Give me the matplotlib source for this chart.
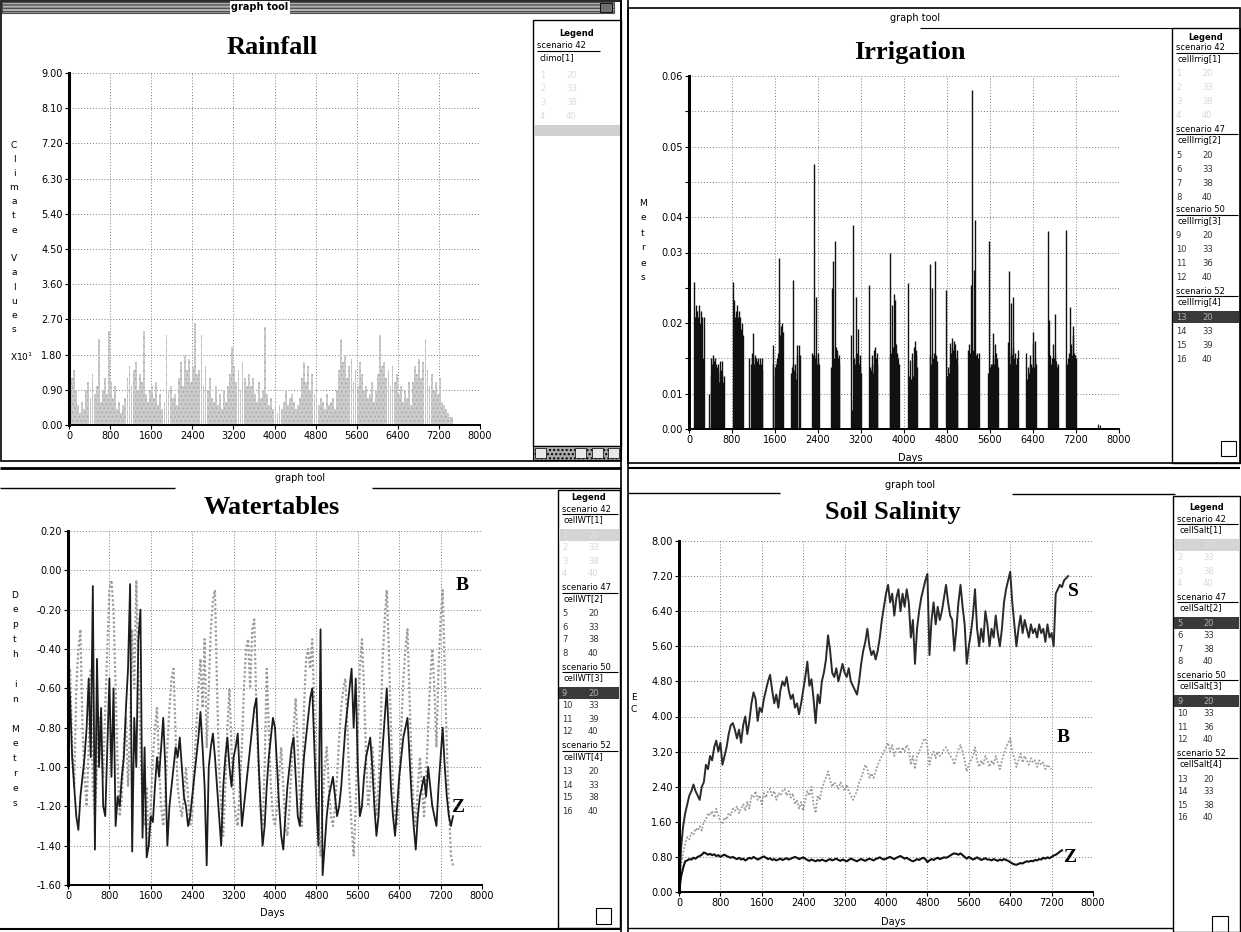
import matplotlib
matplotlib.use('Agg')
import matplotlib.pyplot as plt
from matplotlib.patches import Rectangle
import numpy as np

W, H = 1241, 932

# ---- data ----
rain_step = 40  # days between rainfall bars
rain_vals = [1.6, 1.2, 1.4, 0.9, 0.5, 0.3, 0.6, 0.4,
             0.9, 1.1, 0.7, 1.3, 0.8, 1.0, 2.2, 0.6,
             0.9, 1.2, 0.8, 2.4, 1.1, 0.7, 1.0,
             0.4, 0.6, 0.3, 0.5, 0.7,
             1.2, 1.5, 1.0, 1.4, 1.6, 0.9, 1.3, 1.1, 2.4, 0.8,
             0.6, 0.9, 1.0, 0.7, 1.1, 0.5, 0.8, 0.4,
             0.6, 2.3, 0.9, 1.0, 0.7, 0.8, 0.5,
             1.2, 1.6, 1.0, 1.8, 1.4, 1.7, 1.1, 1.5, 2.6, 1.3,
             1.4, 2.3, 1.0, 1.5, 0.9, 1.2, 0.7,
             0.6, 1.0, 0.5, 0.8, 0.4, 0.9, 0.6, 1.0,
             1.3, 2.0, 1.5, 1.1, 1.4, 0.9, 1.6, 1.2, 1.0, 1.3,
             1.0, 1.2, 0.8, 0.6, 1.1, 0.7, 0.9, 2.5,
             0.8, 0.5, 0.7, 0.4, 0.6, 0.3, 0.5,
             0.4, 0.6, 0.9, 0.5, 0.7, 0.8, 0.6, 0.4, 0.5, 0.7,
             1.2, 1.6, 1.1, 1.5, 0.9, 1.3, 0.8, 1.0,
             0.5, 0.7, 0.6, 0.4, 0.8, 0.5, 0.6, 0.7, 0.4, 0.9,
             1.4, 2.2, 1.6, 1.8, 1.2, 1.5, 1.7, 1.1, 1.4, 1.0, 1.6, 1.3,
             0.9, 1.0, 0.7, 0.8, 1.1, 0.6, 0.9,
             1.3, 2.3, 1.5, 1.6, 1.2, 1.4, 1.0, 1.5, 1.1, 1.3,
             0.8, 1.0, 0.6, 0.9, 0.7, 1.1, 0.5,
             1.1, 1.5, 1.3, 1.7, 1.2, 1.6, 2.2, 1.4, 1.0, 1.3, 0.9, 1.1,
             0.8, 1.2, 0.6, 0.5, 0.4, 0.3, 0.2, 0.2]

irr_step = 12  # days between irrigation events inside a season
irr_starts = [100, 380, 820, 1115, 1560, 1905, 2295, 2650, 3020, 3350,
              3735, 4075, 4480, 4790, 5190, 5565, 5935, 6275, 6680, 7020]
irr_heights = [
    [0.025, 0.019, 0.021, 0.018, 0.02, 0.017, 0.019, 0.021, 0.016, 0.018, 0.02, 0.015, 0.019, 0.012, 0.0, 0.019],
    [0.006, 0.0, 0.012, 0.009, 0.011, 0.0125, 0.012, 0.0115, 0.01, 0.012, 0.011, 0.0105, 0.009, 0.011,
     0.01, 0.008, 0.0115, 0.0095, 0.01, 0.009, 0.0115, 0.008, 0.009],
    [0.025, 0.018, 0.022, 0.019, 0.02, 0.017, 0.021, 0.019, 0.018, 0.02, 0.016, 0.019, 0.017, 0.015, 0.018, 0.016],
    [0.012, 0.0, 0.0, 0.011, 0.012, 0.013, 0.0163, 0.012, 0.011, 0.0125, 0.01, 0.012, 0.0115, 0.009, 0.012,
     0.011, 0.0105, 0.012, 0.009, 0.011, 0.012, 0.01],
    [0.0143, 0.011, 0.0, 0.009, 0.0106, 0.011, 0.012, 0.0115, 0.013, 0.0186, 0.029, 0.016, 0.0175, 0.015, 0.018, 0.0165],
    [0.0095, 0.0105, 0.011, 0.0254, 0.01, 0.0095, 0.011, 0.0085, 0.0125, 0.0143, 0.0, 0.0, 0.0143, 0.0125],
    [0.013, 0.0125, 0.045, 0.0125, 0.012, 0.0225, 0.0125, 0.011, 0.013, 0.012, 0.011],
    [0.0106, 0.024, 0.0285, 0.011, 0.012, 0.0105, 0.032, 0.014, 0.013, 0.0135, 0.012, 0.0125, 0.011],
    [0.016, 0.0033, 0.0347, 0.005, 0.012, 0.0105, 0.011, 0.0225, 0.0125, 0.013, 0.017, 0.0125, 0.011, 0.0105, 0.0125, 0.0095],
    [0.0245, 0.0095, 0.0105, 0.01, 0.011, 0.0125, 0.0095, 0.011, 0.0135, 0.014, 0.0115, 0.012, 0.013, 0.011],
    [0.0125, 0.03, 0.013, 0.021, 0.0125, 0.014, 0.013, 0.023, 0.022, 0.012, 0.0145, 0.0125, 0.013, 0.012, 0.011],
    [0.0248, 0.0067, 0.009, 0.0118, 0.0075, 0.0085, 0.013, 0.0085, 0.009, 0.0118, 0.014, 0.015, 0.0125, 0.0135, 0.0105],
    [0.028, 0.0125, 0.011, 0.0105, 0.024, 0.012, 0.011, 0.013, 0.0285, 0.011, 0.0125, 0.0115],
    [0.0237, 0.009, 0.0105, 0.008, 0.0095, 0.011, 0.0146, 0.013, 0.0155, 0.014, 0.0135, 0.0125, 0.015, 0.013,
     0.0145, 0.012, 0.0135, 0.011],
    [0.0135, 0.012, 0.0145, 0.013, 0.011, 0.0245, 0.0577, 0.012, 0.0135, 0.011, 0.027, 0.0355, 0.0125, 0.0115,
     0.013, 0.012, 0.011, 0.013],
    [0.0095, 0.0084, 0.032, 0.0105, 0.011, 0.0095, 0.011, 0.0163, 0.0125, 0.011, 0.0145, 0.012, 0.013, 0.012, 0.011, 0.0105],
    [0.0148, 0.0123, 0.0268, 0.011, 0.013, 0.0214, 0.0125, 0.014, 0.0225, 0.012, 0.0115, 0.013, 0.0105, 0.011, 0.012, 0.0135],
    [0.0129, 0.0085, 0.0084, 0.0105, 0.0095, 0.011, 0.0125, 0.0095, 0.011, 0.0105, 0.0145, 0.0165, 0.0105, 0.015, 0.012, 0.011],
    [0.0336, 0.011, 0.0186, 0.0125, 0.0105, 0.011, 0.012, 0.0105, 0.0145, 0.012, 0.0195, 0.0125, 0.011, 0.0115, 0.0105, 0.011],
    [0.0338, 0.011, 0.0105, 0.012, 0.013, 0.011, 0.0208, 0.012, 0.0145, 0.0125, 0.0175, 0.016, 0.013, 0.0115, 0.0125, 0.012],
]

wt_step = 40
# scenario 52 (black, "Z")
wt_z = [-0.45, -0.65, -0.95, -1.10, -1.25, -1.32, -1.15, -1.05, -0.95, -0.80,
        -0.55, -0.95, -0.08, -1.42, -0.45, -1.00, -0.70, -1.20, -1.25,
        -0.90, -0.55, -1.05, -0.60, -1.30, -1.15, -1.20, -1.05, -0.95,
        -0.70, -0.50, -0.07, -1.43, -0.75, -1.00, -0.35, -0.20, -1.36,
        -0.90, -1.46, -1.40, -1.25, -1.28, -1.10, -0.95, -1.05, -0.90,
        -0.75, -1.00, -1.40, -1.20, -1.10, -1.00, -0.90, -0.95, -0.85,
        -1.00, -1.15, -1.20, -1.30, -1.25, -1.15, -1.05, -0.95, -0.85,
        -0.72, -0.90, -1.10, -1.50, -1.00, -0.90, -0.83, -0.95, -1.10,
        -1.25, -1.40, -1.10, -0.95, -0.85, -1.00, -1.10, -0.95, -0.90,
        -0.83, -1.05, -1.30, -1.20, -1.10, -1.00, -0.90, -0.80, -0.70,
        -0.65, -0.95, -1.20, -1.40, -1.30, -1.10, -0.95, -0.85, -0.75,
        -0.80, -1.00, -1.20, -1.35, -1.42, -1.25, -1.10, -1.00, -0.90,
        -0.85, -1.05, -1.25, -1.30, -1.10, -0.95, -0.85, -0.75, -0.65,
        -0.60, -0.90, -1.20, -1.40, -0.30, -1.55, -1.40, -1.25, -1.15,
        -1.10, -1.05, -1.15, -1.25, -1.20, -1.10, -0.95, -0.80, -0.70,
        -0.60, -0.50, -0.80, -0.55, -1.00, -1.25, -1.20, -1.05, -0.95,
        -0.90, -0.85, -1.00, -1.20, -1.35, -1.25, -1.05, -0.90, -0.75,
        -0.60, -0.85, -1.10, -1.25, -1.35, -1.20, -1.05, -0.95, -0.85,
        -0.80, -0.75, -0.95, -1.15, -1.30, -1.42, -1.25, -1.15, -1.10,
        -1.05, -1.15, -1.00, -1.10, -1.20, -1.25, -1.30, -1.10, -0.95,
        -0.80, -1.00, -1.15, -1.25, -1.30, -1.25]
# scenario 42 (grey dotted, "B")
wt_b = [-0.70, -0.50, -0.90, -1.10, -0.60, -0.40, -0.30, -0.80, -1.05, -1.20,
        -0.90, -0.50, -1.10, -1.25, -1.00, -0.75, -0.90, -1.05, -0.70,
        -0.40, -0.10, -0.05, -0.20, -0.60, -1.00, -1.25, -1.15, -0.90,
        -0.75, -1.10, -0.80, -0.30, -0.60, -0.05, -0.50, -0.90, -1.20,
        -1.30, -1.10, -1.40, -1.20, -0.95, -0.80, -0.70, -1.00, -1.20,
        -1.30, -1.15, -0.90, -0.70, -0.55, -0.50, -0.85, -1.10, -1.20,
        -1.25, -1.15, -1.00, -1.15, -1.30, -1.25, -1.00, -0.80, -0.60,
        -0.45, -0.70, -0.35, -0.90, -0.60, -0.30, -0.15, -0.10, -0.60,
        -1.00, -1.20, -1.35, -1.10, -0.80, -0.60, -0.90, -1.15, -1.25,
        -1.30, -1.10, -0.90, -0.60, -0.40, -0.35, -0.60, -0.30, -0.25,
        -0.70, -1.00, -1.20, -1.30, -1.00, -0.50, -0.80, -1.10, -1.25,
        -1.30, -1.20, -1.05, -0.90, -1.10, -1.30, -1.35, -1.20, -1.00,
        -0.80, -0.65, -0.90, -1.15, -1.30, -0.70, -0.45, -0.40, -0.50,
        -0.35, -0.70, -1.10, -1.30, -1.45, -1.20, -1.00, -0.90, -1.10,
        -1.25, -1.30, -1.20, -1.05, -0.85, -0.70, -0.60, -0.55, -0.80,
        -1.10, -1.30, -1.45, -1.20, -0.80, -0.50, -0.35, -0.60, -0.95,
        -1.20, -1.10, -0.90, -1.05, -1.25, -1.10, -0.80, -0.45, -0.25,
        -0.10, -0.40, -0.80, -1.10, -1.25, -1.30, -1.10, -0.80, -0.55,
        -0.40, -0.30, -0.65, -1.00, -1.20, -1.30, -1.10, -0.95, -1.10,
        -1.25, -1.05, -0.80, -0.55, -0.40, -0.60, -0.90, -0.50, -0.25,
        -0.10, -0.50, -0.90, -1.20, -1.45, -1.50]

sal_step = 40
sal_s = [0.0, 1.0, 1.5, 1.8, 2.0, 2.2, 2.3, 2.45, 2.3, 2.2,
         2.1, 2.4, 2.5, 2.9, 2.8, 3.1, 3.0, 3.3, 3.45,
         3.2, 3.4, 2.9, 3.1, 3.3, 3.6, 3.8, 3.85, 3.7,
         3.5, 3.7, 3.4, 3.8, 4.0, 3.6, 3.9, 4.3, 4.55,
         4.4, 3.9, 4.2, 4.1, 4.4, 4.6, 4.8, 4.95, 4.6,
         4.3, 4.5, 4.2, 4.6, 4.8, 4.7, 4.9, 4.6, 4.4,
         4.5, 4.2, 4.3, 4.05, 4.3, 4.6, 4.9, 5.25, 4.7,
         4.85, 4.4, 3.85, 4.5, 4.3, 4.8, 5.0, 5.3, 5.85,
         5.5, 5.0, 4.9, 5.1, 4.8, 5.0, 5.2, 5.0, 4.9,
         5.1, 4.8, 4.7, 4.6, 4.5, 4.8, 5.2, 5.5, 5.7,
         6.0, 5.6, 5.4, 5.5, 5.3, 5.5, 5.8, 6.2, 6.5,
         6.8, 7.0, 6.6, 6.8, 6.3, 6.7, 6.9, 6.4, 6.8,
         6.5, 6.9, 6.6, 5.8, 6.2, 5.2, 6.0, 6.4, 6.7,
         6.9, 7.1, 7.25, 5.4, 6.2, 6.6, 6.1, 6.5, 6.2,
         6.4, 6.7, 7.0, 6.6, 6.3, 6.2, 5.5, 6.0, 6.6,
         7.0, 6.5, 6.1, 5.2, 5.6, 5.9, 6.3, 6.9, 6.0,
         5.6, 6.0, 5.7, 6.4, 6.1, 5.6, 6.0, 5.8, 6.3,
         5.9, 5.6, 6.0, 6.6, 6.9, 7.1, 7.3, 6.6, 6.1,
         5.6, 6.0, 6.3, 5.9, 6.2, 6.0, 5.8, 6.1, 5.9,
         6.0, 5.8, 6.1, 5.9, 6.0, 5.7, 6.1, 5.8, 5.9,
         5.6, 6.8, 6.9, 7.0, 6.95, 7.1, 7.15, 7.2]
sal_b = [0.0, 0.6, 0.9, 1.1, 1.25, 1.2, 1.35, 1.3, 1.45, 1.4,
         1.5, 1.4, 1.6, 1.65, 1.8, 1.75, 1.85, 1.7, 1.9,
         1.75, 1.6, 1.55, 1.7, 1.65, 1.8, 1.75, 1.9, 1.85,
         1.95, 1.8, 1.9, 2.0, 1.85, 2.05, 1.9, 2.2, 2.15,
         2.3, 2.1, 2.2, 2.0, 2.25, 2.15, 2.3, 2.35, 2.2,
         2.3, 2.1, 2.25, 2.2, 2.3, 2.35, 2.2, 2.3, 2.15,
         2.25, 2.0, 2.1, 1.9, 2.05, 1.85, 2.1, 2.3, 2.2,
         2.4, 2.0, 1.8, 2.2, 2.1, 2.35, 2.5, 2.6, 2.75,
         2.55, 2.4, 2.5, 2.45, 2.35, 2.5, 2.4, 2.3, 2.45,
         2.3, 2.2, 2.1, 2.2, 2.3, 2.5, 2.6, 2.75, 2.9,
         2.8, 2.6, 2.7, 2.6, 2.75, 2.9, 3.0, 3.1, 3.2,
         3.3, 3.4, 3.2, 3.35, 3.1, 3.25, 3.3, 3.15, 3.3,
         3.2, 3.35, 3.25, 2.9, 3.1, 2.8, 3.1, 3.2, 3.3,
         3.45, 3.5, 3.3, 2.9, 3.1, 3.2, 3.05, 3.2, 3.1,
         3.15, 3.25, 3.3, 3.2, 3.1, 3.05, 2.9, 3.1, 3.25,
         3.35, 3.2, 3.0, 2.75, 2.9, 3.0, 3.1, 3.3, 3.0,
         2.85, 3.0, 2.9, 3.1, 3.0, 2.85, 3.0, 2.9, 3.1,
         2.95, 2.8, 3.0, 3.15, 3.3, 3.4, 3.5, 3.2, 3.05,
         2.85, 3.0, 3.15, 2.95, 3.1, 3.0, 2.9, 3.05, 2.95,
         3.0, 2.85, 3.0, 2.9, 2.95, 2.8, 2.9, 2.85, 2.8]
sal_z = [0.00, 0.35, 0.55, 0.70, 0.72, 0.75, 0.74, 0.78, 0.76, 0.80,
         0.82, 0.85, 0.90, 0.88, 0.85, 0.87, 0.84, 0.86, 0.82, 0.84,
         0.80, 0.83, 0.85, 0.82, 0.80, 0.78, 0.80, 0.77, 0.75, 0.78,
         0.74, 0.76, 0.72, 0.75, 0.78, 0.76, 0.80, 0.77, 0.74, 0.76,
         0.79, 0.81, 0.78, 0.75, 0.77, 0.73, 0.75, 0.72, 0.74, 0.76,
         0.73, 0.75, 0.77, 0.74, 0.76, 0.78, 0.80, 0.78, 0.75, 0.77,
         0.79, 0.76, 0.73, 0.71, 0.74, 0.72, 0.70, 0.73, 0.71, 0.74,
         0.72, 0.70, 0.73, 0.75, 0.72, 0.74, 0.76, 0.73, 0.71, 0.74,
         0.72, 0.70, 0.73, 0.76, 0.74, 0.72, 0.70, 0.73, 0.75, 0.73,
         0.71, 0.74, 0.76, 0.74, 0.72, 0.75, 0.77, 0.79, 0.76, 0.74,
         0.76, 0.78, 0.80, 0.77, 0.75, 0.78, 0.80, 0.82, 0.79, 0.76,
         0.78, 0.75, 0.72, 0.70, 0.72, 0.75, 0.73, 0.76, 0.78, 0.75,
         0.68, 0.72, 0.75, 0.73, 0.76, 0.78, 0.75, 0.77, 0.79, 0.78,
         0.80, 0.83, 0.86, 0.88, 0.87, 0.85, 0.88, 0.84, 0.80, 0.76,
         0.80, 0.77, 0.74, 0.76, 0.79, 0.76, 0.73, 0.75, 0.77, 0.74,
         0.74, 0.72, 0.75, 0.73, 0.71, 0.74, 0.72, 0.75, 0.73, 0.71,
         0.68, 0.65, 0.63, 0.62, 0.64, 0.66, 0.65, 0.68, 0.70, 0.69,
         0.71, 0.70, 0.73, 0.72, 0.75, 0.74, 0.78, 0.76, 0.79, 0.77,
         0.80, 0.83, 0.85, 0.88, 0.92, 0.95]

day_ticks = list(range(0, 8001, 800))
rain_ticks = [0.0, 0.9, 1.8, 2.7, 3.6, 4.5, 5.4, 6.3, 7.2, 8.1, 9.0]
irr_ticks = [0.0, 0.006, 0.012, 0.018, 0.024, 0.030, 0.036, 0.042, 0.048, 0.054, 0.060]
irr_tick_labels = ['0.00', '0.01', '', '0.02', '', '0.03', '0.04', '', '0.05', '', '0.06']
wt_ticks = [-1.6, -1.4, -1.2, -1.0, -0.8, -0.6, -0.4, -0.2, 0.0, 0.2]
sal_ticks = [0.0, 0.8, 1.6, 2.4, 3.2, 4.0, 4.8, 5.6, 6.4, 7.2, 8.0]

scenarios = ['42', '47', '50', '52']
irr_runs = ['20', '33', '38', '40', '20', '33', '38', '40', '20', '33', '36', '40', '20', '33', '39', '40']
wt_runs = ['20', '33', '38', '40', '20', '33', '38', '40', '20', '33', '39', '40', '20', '33', '38', '40']
sal_runs = ['20', '33', '38', '40', '20', '33', '38', '40', '20', '33', '36', '40', '20', '33', '38', '40']

# ---- figure ----
fig = plt.figure(figsize=(W / 100, H / 100), dpi=100)
bg = fig.add_axes([0, 0, 1, 1])
bg.set_xlim(0, W)
bg.set_ylim(H, 0)
bg.axis('off')


def rect(x0, y0, x1, y1, fc='none', ec='k', lw=1.0, hatch=None):
    bg.add_patch(Rectangle((x0, y0), x1 - x0, y1 - y0, facecolor=fc, edgecolor=ec,
                           lw=lw, hatch=hatch))


def hline(x0, x1, y, lw=1.0, c='k'):
    bg.plot([x0, x1], [y, y], color=c, lw=lw, solid_capstyle='butt')


def vline(x, y0, y1, lw=1.0, c='k'):
    bg.plot([x, x], [y0, y1], color=c, lw=lw, solid_capstyle='butt')


def stacked(x, y0, dy, label):
    for i, ch in enumerate(label):
        bg.text(x, y0 + i * dy, ch, fontsize=6.5, ha='center', va='center')


def px_axes(x0, y0, x1, y1):
    return fig.add_axes([x0 / W, 1 - y1 / H, (x1 - x0) / W, (y1 - y0) / H])


def style(ax, ylim, yticks, ylabels):
    ax.set_facecolor('none')
    ax.set_xlim(0, 8000)
    ax.set_ylim(*ylim)
    ax.set_xticks(day_ticks)
    ax.set_xticklabels([str(d) for d in day_ticks])
    ax.set_yticks(yticks)
    ax.set_yticklabels(ylabels)
    ax.grid(True, color='#7a7a7a', lw=0.7, ls=(0, (1, 2)))
    ax.set_axisbelow(True)
    ax.spines['top'].set_visible(False)
    ax.spines['right'].set_visible(False)
    ax.spines['left'].set_linewidth(2.2)
    ax.spines['bottom'].set_linewidth(1.4)
    ax.tick_params(labelsize=7, length=3, width=0.8, pad=1.5)


def legend(x0, x1, y_leg, y_sc, block, row, cell, runs, nblocks=4,
           light=(), dark=()):
    bg.text((x0 + x1) / 2, y_leg, 'Legend', fontsize=6, weight='bold', ha='center', va='center')
    for b in range(nblocks):
        ys = y_sc + b * block
        bg.text(x0 + 4, ys, 'scenario ' + scenarios[b], fontsize=6, va='center')
        hline(x0 + 4, x1 - 2, ys + 5, lw=0.8)
        bg.text(x0 + 6, ys + row * 0.85, '%s[%d]' % (cell, b + 1), fontsize=6, va='center')
        for k in range(4):
            yr = ys + 26 + k * row
            n = 4 * b + k
            if n in dark:
                rect(x0 + 1, yr - 6, x1 - 1, yr + 6, fc='#3a3a3a', ec='none', lw=0)
                col = '#b0b0b0'
            elif n in light:
                rect(x0 + 1, yr - 6, x1 - 1, yr + 6, fc='#d4d4d4', ec='none', lw=0)
                col = '#e0e0e0'
            elif b == 0:
                col = '#d8d8d8'
            else:
                col = '#333333'
            bg.text(x0 + 4, yr, str(n + 1), fontsize=6, va='center', color=col)
            bg.text(x0 + 30, yr, runs[n], fontsize=6, va='center', color=col)


# window frames
rect(1, 1, 621, 461, lw=1.2)
rect(2, 2, 614, 13, fc='#b4b4b4', ec='#505050', lw=0.8, hatch='-----')
bg.text(260, 7.5, 'graph tool', fontsize=7, weight='bold', ha='center', va='center',
        bbox=dict(fc='white', ec='none', pad=1))
rect(600, 3, 612, 12, fc='#707070', ec='k', lw=0.6)
rect(533, 20, 621, 446, lw=1)
rect(533, 446, 621, 460, fc='#a8a8a8', ec='k', lw=0.8, hatch='....')
for sx in [535, 575, 592, 608]:
    rect(sx, 448, sx + 11, 458, fc='#e8e8e8', ec='k', lw=0.5)

rect(628, 8, 1240, 463, lw=1.2)
bg.text(915, 18, 'graph tool', fontsize=7, ha='center', va='center')
hline(920, 1172, 28, lw=0.8)
rect(1172, 28, 1240, 463, lw=1)
rect(1221, 441, 1236, 456, lw=0.8)

hline(0, 621, 468, lw=2)
bg.text(300, 478, 'graph tool', fontsize=7, ha='center', va='center')
hline(0, 175, 488, lw=1)
hline(372, 621, 488, lw=1)
rect(558, 490, 620, 928, lw=1)
rect(596, 908, 611, 924, lw=0.8)
hline(0, 620, 929, lw=1.5)

hline(628, 1240, 468, lw=1.5)
bg.text(910, 485, 'graph tool', fontsize=7, ha='center', va='center')
hline(628, 780, 493, lw=1)
hline(1012, 1175, 494, lw=1)
rect(1173, 496, 1240, 932, lw=1)
rect(1212, 916, 1228, 932, lw=0.8)
hline(628, 1173, 928, lw=1)
vline(621, 0, 932, lw=1.2)
vline(628, 0, 932, lw=1.2)

# legends
bg.text(577, 33, 'Legend', fontsize=6, weight='bold', ha='center', va='center')
bg.text(537, 46, 'scenario 42', fontsize=6, va='center')
hline(537, 600, 51, lw=0.8)
bg.text(539, 58, 'climo[1]', fontsize=6, va='center')
for k in range(4):
    bg.text(540, 75 + k * 13.7, str(k + 1), fontsize=6, va='center', color='#dcdcdc')
    bg.text(566, 75 + k * 13.7, irr_runs[k], fontsize=6, va='center', color='#dcdcdc')
rect(534, 125, 620, 136, fc='#cfcfcf', ec='none', lw=0, hatch='....')

legend(1172, 1240, 37, 48, 81, 14, 'cellIrrig', irr_runs, dark=(12,))
legend(558, 620, 497, 509, 79, 13, 'cellWT', wt_runs, light=(0,), dark=(8,))
legend(1173, 1240, 507, 519, 78, 13, 'cellSalt', sal_runs, light=(0,), dark=(4, 8))

# titles and axis labels
serif = 'Liberation Serif'
bg.text(272, 48, 'Rainfall', family=serif, weight='bold', fontsize=19, ha='center', va='center')
bg.text(910, 52, 'Irrigation', family=serif, weight='bold', fontsize=19, ha='center', va='center')
bg.text(272, 508, 'Watertables', family=serif, weight='bold', fontsize=19, ha='center', va='center')
bg.text(893, 513, 'Soil Salinity', family=serif, weight='bold', fontsize=19, ha='center', va='center')

stacked(14, 145, 14.2, 'Climate Values')
bg.text(10, 357, r'X10$^{1}$', fontsize=6.5, va='center')
stacked(643, 203, 15, 'Metres')
stacked(15, 595, 14.9, 'Depth in Metres')
stacked(634, 697, 13, 'EC')

bg.text(910, 458, 'Days', fontsize=7, ha='center', va='center')
bg.text(272, 913, 'Days', fontsize=7, ha='center', va='center')
bg.text(893, 922, 'Days', fontsize=7, ha='center', va='center')

for lab, x, y in [('B', 462, 586), ('Z', 458, 808), ('S', 1073, 592), ('B', 1063, 737), ('Z', 1070, 857)]:
    bg.text(x, y, lab, family=serif, weight='bold', fontsize=14, ha='center', va='center')

# ---- plots ----
ax_rain = px_axes(69, 73, 480, 425)
style(ax_rain, (0, 9), rain_ticks, ['%.2f' % v for v in rain_ticks])
rain_days = np.arange(len(rain_vals)) * rain_step
ax_rain.bar(rain_days, rain_vals, width=rain_step * 0.9, align='edge', color='#cdcdcd',
            lw=0, hatch='....', edgecolor='#b0b0b0')

ax_irr = px_axes(689, 76, 1119, 429)
style(ax_irr, (0, 0.06), irr_ticks, irr_tick_labels)
for start, hs in zip(irr_starts, irr_heights):
    days = start + np.arange(len(hs)) * irr_step
    ax_irr.vlines(days, 0, hs, color='#111111', lw=1.0)
ax_irr.vlines([7600, 7640], 0, [0.0008, 0.0006], color='#1e1e1e', lw=0.9)

ax_wt = px_axes(68, 531, 482, 885)
style(ax_wt, (-1.6, 0.2), wt_ticks, ['%.2f' % v for v in wt_ticks])
wt_days = np.arange(len(wt_z)) * wt_step
ax_wt.plot(np.arange(len(wt_b)) * wt_step, wt_b, color='#9c9c9c', lw=1.6, ls=(0, (1, 1)))
ax_wt.plot(wt_days, wt_z, color='#1c1c1c', lw=1.3)

ax_sal = px_axes(679, 541, 1093, 892)
style(ax_sal, (0, 8), sal_ticks, ['%.2f' % v for v in sal_ticks])
ax_sal.plot(np.arange(len(sal_b)) * sal_step, sal_b, color='#9c9c9c', lw=1.3, ls=(0, (1, 1)))
ax_sal.plot(np.arange(len(sal_s)) * sal_step, sal_s, color='#2a2a2a', lw=1.4)
ax_sal.plot(np.arange(len(sal_z)) * sal_step, sal_z, color='#111111', lw=1.5)

fig.savefig('out.png', dpi=100)
